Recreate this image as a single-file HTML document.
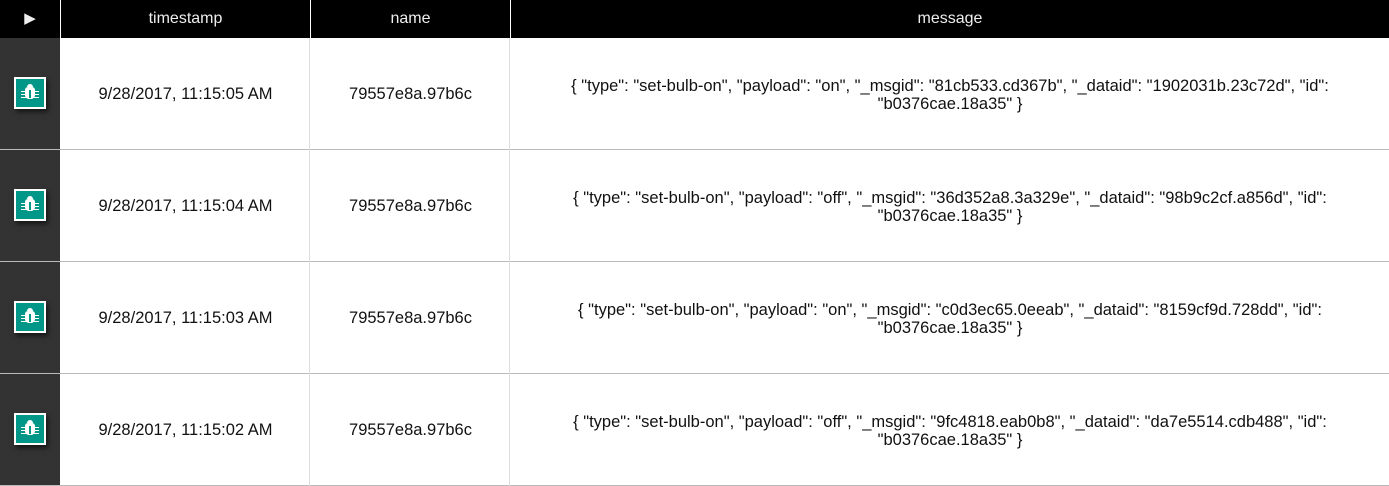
<!DOCTYPE html>
<html><head><meta charset="utf-8"><style>
*{margin:0;padding:0;box-sizing:border-box}
body{width:1389px;height:486px;overflow:hidden;background:#fff;font-family:"Liberation Sans",Arial,sans-serif;font-size:16.5px;color:#111;position:relative}
.hdr{position:absolute;left:0;top:0;width:1389px;height:38px;background:#000;color:#eee;font-size:16px}
.hdr div{position:absolute;top:0;height:38px;line-height:38px;text-align:center}
.vl{position:absolute;width:1px;background:#ddd}
.row{position:absolute;left:0;width:1389px;height:112px;border-bottom:1px solid #bbb}
.dark{position:absolute;left:0;top:0;width:60px;height:111px;background:#333}
.badge{position:absolute;left:14px;top:39px;width:32px;height:32px;border:2px solid #fff;background:#009688;box-shadow:2px 3px 5px rgba(0,0,0,.6)}
.bug{position:absolute;left:9px;top:8px;width:10px;height:12px;background:#fff;border-radius:3px 3px 4px 4px}
.bug:after{content:"";position:absolute;left:4px;top:3px;width:2px;height:8px;background:#009688}
.bug:before{content:"";position:absolute;left:2px;top:-3px;width:6px;height:3px;background:#fff;border-radius:3px 3px 0 0}
.leg{position:absolute;height:1px;background:#fff;width:18px;left:5px}
.c{position:absolute;top:0;height:111px;display:flex;align-items:center;justify-content:center;text-align:center;line-height:18px}
.m{padding-top:2px}
</style></head><body>
<div class="hdr">
<div style="left:0;width:60px;font-size:15px">&#9654;</div>
<div style="left:61px;width:249px">timestamp</div>
<div style="left:311px;width:199px">name</div>
<div style="left:511px;width:878px">message</div>
</div>
<div style="position:absolute;left:60px;top:0;width:1px;height:38px;background:#fff"></div>
<div style="position:absolute;left:310px;top:0;width:1px;height:38px;background:#fff"></div>
<div style="position:absolute;left:510px;top:0;width:1px;height:38px;background:#fff"></div>

<div class="row" style="top:38px">
<div class="dark"><div class="badge"><div class="leg" style="top:12px"></div><div class="leg" style="top:15px"></div><div class="leg" style="top:18px"></div><div class="bug"></div></div></div>
<div class="c" style="left:61px;width:249px">9/28/2017, 11:15:05 AM</div>
<div class="c" style="left:311px;width:199px">79557e8a.97b6c</div>
<div class="c m" style="left:511px;width:878px">{ "type": "set-bulb-on", "payload": "on", "_msgid": "81cb533.cd367b", "_dataid": "1902031b.23c72d", "id":<br>"b0376cae.18a35" }</div>
</div>
<div class="row" style="top:150px">
<div class="dark"><div class="badge"><div class="leg" style="top:12px"></div><div class="leg" style="top:15px"></div><div class="leg" style="top:18px"></div><div class="bug"></div></div></div>
<div class="c" style="left:61px;width:249px">9/28/2017, 11:15:04 AM</div>
<div class="c" style="left:311px;width:199px">79557e8a.97b6c</div>
<div class="c m" style="left:511px;width:878px">{ "type": "set-bulb-on", "payload": "off", "_msgid": "36d352a8.3a329e", "_dataid": "98b9c2cf.a856d", "id":<br>"b0376cae.18a35" }</div>
</div>
<div class="row" style="top:262px">
<div class="dark"><div class="badge"><div class="leg" style="top:12px"></div><div class="leg" style="top:15px"></div><div class="leg" style="top:18px"></div><div class="bug"></div></div></div>
<div class="c" style="left:61px;width:249px">9/28/2017, 11:15:03 AM</div>
<div class="c" style="left:311px;width:199px">79557e8a.97b6c</div>
<div class="c m" style="left:511px;width:878px">{ "type": "set-bulb-on", "payload": "on", "_msgid": "c0d3ec65.0eeab", "_dataid": "8159cf9d.728dd", "id":<br>"b0376cae.18a35" }</div>
</div>
<div class="row" style="top:374px">
<div class="dark"><div class="badge"><div class="leg" style="top:12px"></div><div class="leg" style="top:15px"></div><div class="leg" style="top:18px"></div><div class="bug"></div></div></div>
<div class="c" style="left:61px;width:249px">9/28/2017, 11:15:02 AM</div>
<div class="c" style="left:311px;width:199px">79557e8a.97b6c</div>
<div class="c m" style="left:511px;width:878px">{ "type": "set-bulb-on", "payload": "off", "_msgid": "9fc4818.eab0b8", "_dataid": "da7e5514.cdb488", "id":<br>"b0376cae.18a35" }</div>
</div>
<div class="vl" style="left:309px;top:38px;height:448px"></div>
<div class="vl" style="left:509px;top:38px;height:448px"></div>
</body></html>
